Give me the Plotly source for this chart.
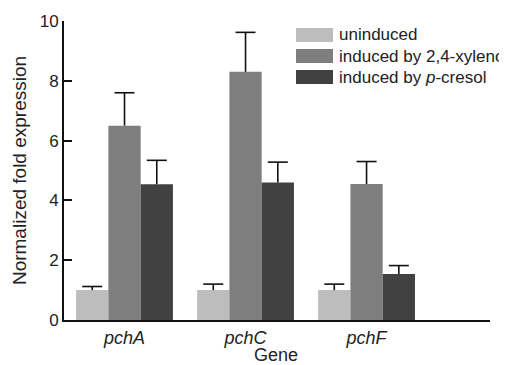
import plotly.graph_objects as go

genes = ["pchA", "pchC", "pchF"]
series_names = ["uninduced", "induced by 2,4-xylenol", "induced by <i>p</i>-cresol"]
uninduced = [1.0, 1.0, 1.0]
uninduced_err = [0.12, 0.2, 0.2]
xylenol = [6.5, 8.3, 4.55]
xylenol_err = [1.1, 1.32, 0.75]
cresol = [4.54, 4.6, 1.54]
cresol_err = [0.8, 0.68, 0.28]
colors = ["#bdbdbd", "#7e7e7e", "#414141"]
y_ticks = [0, 2, 4, 6, 8, 10]
x_title = "Gene"
y_title = "Normalized fold expression"

# page body has an 8px default margin; size the figure to fill the window
OFF = 8
W, H = 507 - OFF, 365 - OFF
# plot area in window pixels: x 64..490, y 21..320
L, R, T, B = 64 - OFF, 17, 21 - OFF, 45
pw, ph = W - L - R, H - T - B
X_RANGE = [-0.5, 3.02]
BARGAP = 0.2
CAP_PX = 10

FONT = "Liberation Sans, Arial, Helvetica, sans-serif"

xidx = list(range(len(genes)))
all_vals = [uninduced, xylenol, cresol]
all_errs = [uninduced_err, xylenol_err, cresol_err]
n = len(all_vals)
bar_w = (1 - BARGAP) / n
cap = CAP_PX * (X_RANGE[1] - X_RANGE[0]) / pw

fig = go.Figure()
for k, (name, vals, col) in enumerate(zip(series_names, all_vals, colors)):
    fig.add_trace(go.Bar(
        x=xidx, y=vals, name=name, marker=dict(color=col, line=dict(width=0)),
        showlegend=False,
    ))

# one-sided (upward) error bars with a cap only at the top
ex, ey = [], []
for k, (vals, errs) in enumerate(zip(all_vals, all_errs)):
    off = (k - (n - 1) / 2) * bar_w
    for i, v, e in zip(xidx, vals, errs):
        xc = i + off
        ex += [xc, xc, None, xc - cap, xc + cap, None]
        ey += [v, v + e, None, v + e, v + e, None]
fig.add_trace(go.Scatter(x=ex, y=ey, mode="lines", showlegend=False,
                         line=dict(color="#111111", width=1.6), hoverinfo="skip"))

# custom legend (large swatches like the reference); positions in window px
def px_x(x):
    return (x - OFF - L) / pw

def px_y(y):
    return (H - B - (y - OFF)) / ph

shapes, annots = [], []
row_px = [35, 56, 77]
for name, col, yc in zip(series_names, colors, row_px):
    shapes.append(dict(type="rect", xref="paper", yref="paper",
                       x0=px_x(296), x1=px_x(333),
                       y0=px_y(yc + 7), y1=px_y(yc - 7),
                       fillcolor=col, line=dict(width=0)))
    annots.append(dict(xref="paper", yref="paper", x=px_x(337), y=px_y(yc),
                       text=name, showarrow=False, xanchor="left", yanchor="middle",
                       font=dict(size=17, color="#222222", family=FONT)))

# x-axis title placed low, near the bottom edge as in the reference
annots.append(dict(xref="paper", yref="paper", x=px_x(276), y=px_y(355),
                   text=x_title, showarrow=False, xanchor="center", yanchor="middle",
                   font=dict(size=18, color="#222222", family=FONT)))

fig.update_layout(
    width=W, height=H,
    margin=dict(l=L, r=R, t=T, b=B, pad=0, autoexpand=False),
    paper_bgcolor="white", plot_bgcolor="white",
    barmode="group", bargap=BARGAP, bargroupgap=0,
    font=dict(family=FONT, size=17, color="#222222"),
    shapes=shapes, annotations=annots,
    xaxis=dict(
        range=X_RANGE, automargin=False,
        tickmode="array", tickvals=xidx, ticktext=[f"<i>{g}</i>" for g in genes],
        showline=True, linecolor="#111111", linewidth=2, ticks="",
        showgrid=False, zeroline=False, tickfont=dict(size=18),
    ),
    yaxis=dict(
        range=[0, 10], tickvals=y_ticks, automargin=False,
        showline=True, linecolor="#111111", linewidth=2,
        ticks="inside", ticklen=8, tickwidth=2, tickcolor="#111111",
        showgrid=False, zeroline=False, tickfont=dict(size=17),
        title=dict(text=y_title, font=dict(size=19), standoff=8),
    ),
)

fig.write_html("out.html")
